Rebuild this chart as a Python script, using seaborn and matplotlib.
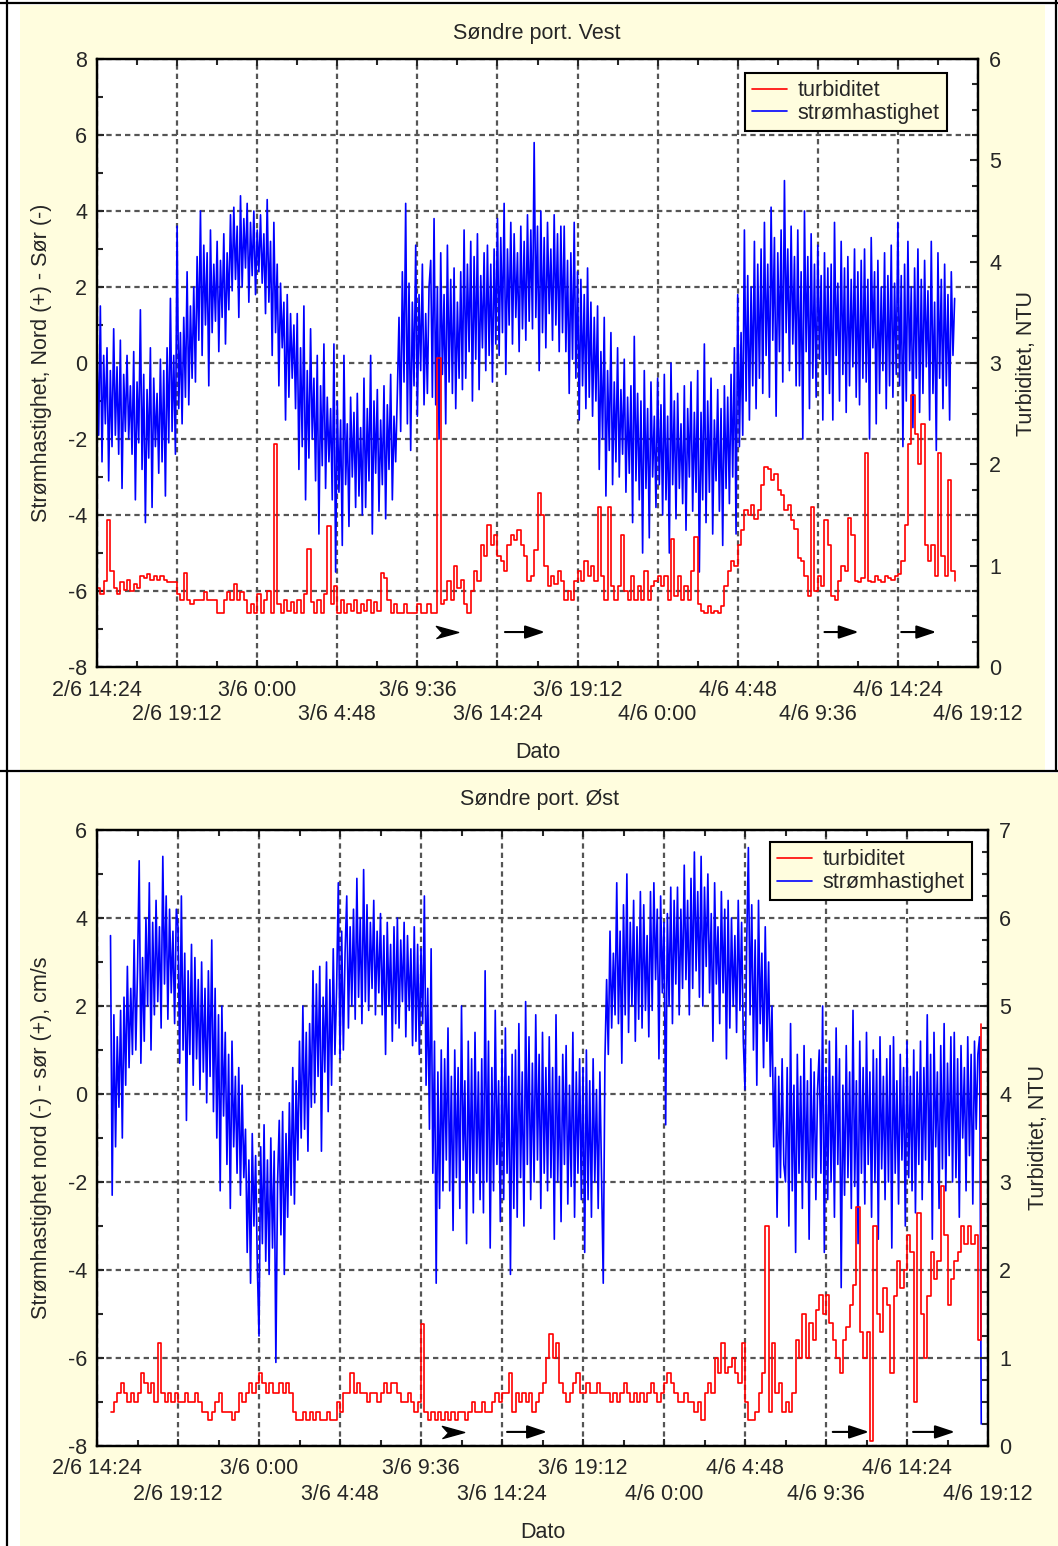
import numpy as np
import matplotlib
matplotlib.use("Agg")
import matplotlib.pyplot as plt
from matplotlib.patches import Rectangle
from matplotlib.lines import Line2D
from matplotlib.ticker import MultipleLocator, FixedLocator
import seaborn as sns

sns.set_style("white")
plt.rcParams["font.family"] = ["Liberation Sans", "DejaVu Sans"]
plt.rcParams["axes.unicode_minus"] = False

# ---------------------------------------------------------------------------
# Time axis: hours after 2/6 14:24
# ---------------------------------------------------------------------------
SPEED_STEP = 0.1   # current meter: one reading every 6 minutes
TURB_STEP = 0.2    # turbidity sensor: one reading every 12 minutes
TICK_HOURS = [0.0, 4.8, 9.6, 14.4, 19.2, 24.0, 28.8, 33.6, 38.4, 43.2, 48.0, 52.8]
TICK_LABELS = ["2/6 14:24", "2/6 19:12", "3/6 0:00", "3/6 4:48", "3/6 9:36",
               "3/6 14:24", "3/6 19:12", "4/6 0:00", "4/6 4:48", "4/6 9:36",
               "4/6 14:24", "4/6 19:12"]

# Søndre port, Vest: current speed (cm/s, north +) and turbidity (NTU)
VEST_START = 0.0
VEST_SPEED = [
    0.3, -1.9, 1.5, -2.6, 0.2, -1.6, 0.4, -3.1, -0.2, -2.2, 0.9, -1.9, -0.1, -2.4, 0.6, -3.3, -0.3, -1.8, 0.2, -2.0,
    -0.6, -2.4, 0.3, -3.6, -0.5, -2.1, 1.4, -2.8, -0.3, -4.2, -0.7, -2.5, 0.4, -3.8, -0.4, -2.2, -0.8, -2.9, 0.1, -2.6,
    -0.2, -3.5, 0.4, -2.1, 1.7, -1.8, 0.2, -2.4, 3.6, -1.2, 0.8, -1.6, 1.2, -0.9, 2.4, -1.1, 1.5, -0.4, 2.0, -0.5,
    2.8, 0.6, 4.0, 0.2, 3.1, 1.0, 2.9, -0.6, 3.5, 0.8, 2.6, 1.1, 3.2, 0.3, 2.7, 1.2, 3.4, 0.5, 2.9, 1.4,
    3.9, 1.9, 4.1, 2.2, 3.6, 1.2, 4.4, 2.0, 3.8, 2.5, 4.2, 1.6, 3.7, 2.3, 4.0, 1.8, 3.5, 2.4, 3.9, 2.1,
    3.4, 1.3, 4.3, 1.6, 3.2, 0.2, 3.7, 0.8, 2.6, -0.6, 2.1, 0.4, 1.6, -1.5, 1.8, -0.9, 1.3, -0.4, 1.0, -1.2,
    1.3, -2.8, 0.4, -2.2, 1.5, -3.6, -0.2, -2.5, 0.9, -2.0, -0.4, -3.1, 0.2, -4.5, -0.6, -2.7, 0.5, -3.3, -0.9, -2.6,
    -1.2, -3.6, 0.5, -5.5, -1.0, -3.4, -1.5, -4.8, 0.2, -3.2, -1.6, -4.3, -0.9, -3.0, -1.3, -3.8, -0.8, -3.5, -1.7, -4.0,
    -0.4, -3.8, -1.2, -3.1, 0.2, -4.5, -1.0, -2.9, -0.7, -3.9, -1.5, -3.2, -0.6, -4.1, -1.1, -2.8, -0.3, -3.6, -1.4, -2.6,
    -0.8, 1.2, -1.8, 2.4, -0.5, 4.2, -1.6, 2.1, -2.3, 1.6, -0.6, 3.1, -1.4, 1.8, -0.2, 2.6, -1.1, 1.3, -0.8, 2.0,
    2.7, -0.9, 3.8, -1.1, 2.0, -2.0, 2.9, -0.3, 1.8, -1.6, 3.1, -0.5, 2.2, -0.8, 2.5, -1.2, 1.6, -0.4, 2.4, -0.7,
    3.5, -0.4, 2.6, 0.3, 3.2, -1.0, 2.8, 0.1, 3.4, -0.7, 2.3, 0.4, 2.9, -0.2, 3.1, 0.2, 2.6, -0.5, 3.0, 0.5,
    3.8, 0.2, 3.3, 0.8, 4.2, -0.3, 3.0, 1.0, 3.7, 0.5, 3.4, 1.2, 2.9, 0.3, 3.6, 0.9, 3.2, 0.6, 3.9, 1.1,
    3.5, 0.9, 5.8, 1.2, 3.6, -0.2, 4.0, 0.8, 3.3, 0.4, 3.7, 1.3, 3.0, 0.6, 3.9, 1.0, 3.4, 0.3, 3.6, 0.8,
    3.6, 0.3, 2.7, -0.8, 2.9, 0.1, 3.7, -0.4, 2.4, -1.5, 2.2, -0.6, 1.8, -1.2, 2.5, -0.9, 1.6, -1.4, 1.2, -1.0,
    1.5, -2.8, 0.3, -2.0, 1.2, -3.5, -0.2, -2.3, 0.8, -3.2, -0.5, -2.6, 0.4, -3.0, -0.7, -2.4, 0.1, -3.4, -0.9, -2.9,
    -0.6, -4.2, 0.7, -3.1, -0.8, -3.6, -1.0, -5.0, -0.2, -3.3, -1.2, -4.6, -0.5, -3.0, -1.4, -3.8, -0.4, -3.2, -1.1, -4.0,
    -0.3, -3.6, -1.4, -5.0, 0.0, -3.2, -1.0, -4.1, -0.8, -3.3, -1.6, -3.7, -0.6, -4.4, -1.2, -3.0, -0.5, -3.9, -1.3, -3.4,
    -0.2, -5.5, -1.3, -3.6, 0.5, -4.2, -1.0, -3.4, -0.4, -4.5, -1.5, -3.1, -0.7, -3.9, -1.2, -4.8, -0.6, -3.3, -0.9, -3.7,
    -0.3, -3.0, 0.4, -4.5, 1.8, -2.2, 0.8, -1.9, 3.5, -1.0, 2.3, -1.5, 2.0, -0.6, 3.2, -1.2, 2.6, -0.4, 3.0, -0.8,
    3.7, 0.2, 2.6, -0.9, 4.1, 0.6, 3.3, -1.4, 2.9, 0.3, 3.5, -0.5, 4.8, 0.8, 3.0, -0.2, 3.6, 0.5, 2.8, -0.6,
    3.5, -0.6, 2.4, -2.0, 4.0, 0.3, 2.8, -1.2, 3.4, -0.4, 2.6, -0.9, 3.1, 0.1, 2.3, -1.5, 2.9, -0.3, 2.5, -0.8,
    2.6, -1.5, 3.7, 0.2, 2.1, -1.0, 3.2, -0.3, 2.5, -1.3, 2.8, -0.6, 2.2, -0.1, 3.0, -0.9, 2.4, -1.1, 2.7, -0.4,
    3.0, -0.5, 2.2, -2.0, 3.3, 0.4, 2.4, -1.6, 2.7, -0.8, 2.0, -0.2, 2.9, -1.2, 2.3, -0.6, 3.1, -0.9, 2.1, -0.3,
    3.7, -0.6, 2.3, -2.2, 2.6, -1.0, 3.2, -0.2, 2.0, -1.7, 2.5, -0.4, 3.0, -1.3, 2.2, -0.8, 2.7, -0.1, 1.9, -1.5,
    3.2, -0.8, 1.6, -2.3, 2.9, -0.4, 2.2, -1.2, 2.6, -0.6, 1.8, -1.5, 2.4, 0.2, 1.7,
]
VEST_TURB = [
    0.78, 0.72, 0.85, 1.45, 0.95, 0.78, 0.72, 0.84, 0.76, 0.86,
    0.75, 0.82, 0.78, 0.90, 0.88, 0.92, 0.86, 0.90, 0.86, 0.90,
    0.86, 0.84, 0.84, 0.84, 0.72, 0.66, 0.93, 0.66, 0.62, 0.66,
    0.66, 0.66, 0.74, 0.66, 0.66, 0.66, 0.53, 0.53, 0.66, 0.74,
    0.66, 0.82, 0.66, 0.74, 0.66, 0.53, 0.62, 0.53, 0.72, 0.53,
    0.66, 0.75, 0.53, 2.20, 0.62, 0.53, 0.66, 0.55, 0.64, 0.53,
    0.66, 0.53, 0.72, 1.16, 0.64, 0.53, 0.66, 0.53, 0.72, 1.39,
    0.62, 0.80, 0.53, 0.66, 0.53, 0.62, 0.55, 0.66, 0.53, 0.62,
    0.55, 0.66, 0.53, 0.64, 0.55, 0.93, 0.88, 0.66, 0.53, 0.62,
    0.53, 0.53, 0.62, 0.53, 0.53, 0.53, 0.62, 0.53, 0.53, 0.62,
    0.53, 0.53, 3.05, 0.62, 0.66, 0.85, 0.66, 1.00, 0.78, 0.86,
    0.62, 0.53, 0.75, 0.95, 0.85, 1.20, 1.10, 1.40, 1.20, 1.30,
    1.10, 1.05, 0.95, 1.20, 1.30, 1.25, 1.35, 1.20, 1.10, 0.85,
    0.90, 1.15, 1.72, 1.50, 1.00, 0.80, 0.90, 0.82, 0.95, 0.85,
    0.66, 0.75, 0.66, 0.85, 0.95, 0.85, 1.05, 0.90, 1.00, 0.85,
    1.58, 0.90, 0.66, 1.58, 0.80, 0.66, 0.80, 1.30, 0.75, 0.66,
    0.90, 0.66, 0.80, 0.66, 0.95, 0.66, 0.80, 0.85, 0.90, 0.80,
    0.90, 0.66, 1.26, 0.70, 0.90, 0.66, 0.80, 0.66, 0.95, 1.28,
    0.62, 0.55, 0.53, 0.60, 0.53, 0.55, 0.53, 0.60, 0.80, 0.95,
    1.05, 1.00, 1.20, 1.35, 1.55, 1.50, 1.60, 1.46, 1.55, 1.80,
    1.97, 1.95, 1.85, 1.90, 1.75, 1.70, 1.55, 1.60, 1.45, 1.36,
    1.08, 1.05, 0.90, 0.70, 1.58, 0.75, 0.90, 0.80, 1.45, 1.20,
    0.70, 0.66, 0.85, 1.00, 0.95, 1.47, 1.30, 0.85, 0.84, 0.88,
    2.11, 0.85, 0.84, 0.90, 0.86, 0.84, 0.90, 0.88, 0.86, 0.90,
    0.92, 1.05, 1.40, 2.20, 2.68, 2.30, 2.00, 2.40, 1.20, 1.05,
    1.20, 0.90, 2.11, 1.10, 0.90, 1.85, 0.95, 0.85,
]

# Søndre port, Øst: current speed (cm/s, south +) and turbidity (NTU)
OST_START = 0.8
OST_SPEED = [
    3.6, -2.3, 1.8, -1.2, 1.3, -0.3, 1.9, -1.0, 2.2, 0.2, 2.9, 0.6, 2.4, 0.9, 3.5, 1.0, 2.8, 5.3, 0.7, 3.1,
    1.2, 4.0, 2.0, 4.8, 1.0, 3.9, 1.8, 4.4, 2.1, 3.8, 1.5, 5.4, 2.5, 4.5, 1.7, 4.2, 2.3, 3.7, 1.6, 4.2,
    3.8, 0.7, 4.5, 1.0, 3.2, -0.6, 2.8, 0.9, 3.4, 0.2, 3.1, 0.8, 2.6, 0.1, 3.0, 0.5, 2.4, -0.2, 2.8, 0.4,
    3.5, -0.4, 2.4, -1.0, 1.8, -2.2, 2.0, -0.5, 1.4, -1.6, 0.9, -2.6, 1.2, -1.2, 0.4, -1.8, 0.6, -2.3, 0.2, -1.9,
    -0.8, -3.6, -1.5, -4.3, -0.9, -3.0, -1.4, -3.9, -5.5, -1.2, -3.4, -0.7, -3.8, -1.5, -4.1, -1.0, -3.5, -1.3, -6.1, -2.0,
    -0.6, -3.2, -0.4, -4.1, -0.9, -2.8, -0.2, -2.3, 0.6, -2.5, 0.3, -1.5, 1.2, -1.0, 2.0, -0.8, 1.4, -1.3, 1.6, -0.3,
    2.8, -0.2, 2.5, 0.4, 2.9, -1.3, 2.2, 0.5, 3.0, -0.4, 2.6, 0.2, 3.3, 0.9, 2.4, 4.8, 0.8, 3.7, 1.0, 3.2,
    4.5, 1.5, 3.8, 2.0, 4.2, 1.7, 4.9, 2.2, 4.0, 1.6, 5.1, 2.1, 4.3, 1.9, 3.9, 2.4, 4.4, 1.8, 3.7, 2.3,
    4.1, 1.8, 3.6, 0.9, 3.9, 2.0, 3.4, 1.2, 3.8, 1.6, 4.0, 1.5, 3.5, 2.1, 3.9, 1.3, 3.6, 1.9, 3.3, 1.1,
    3.8, 1.2, 3.4, 0.9, 3.3, 1.6, 4.5, 0.2, 2.4, -0.8, 3.3, -1.8, 1.2, -4.3, 0.5, -2.6, 1.0, -2.2, 0.8, -1.5,
    1.5, -2.2, 0.4, -3.1, 1.0, -1.9, 0.6, -2.6, 2.0, -1.5, 0.3, -3.4, 1.2, -2.0, 0.8, -2.7, 1.4, -1.8, 0.5, -2.4,
    0.8, -2.7, 2.8, -2.0, 1.2, -3.5, 0.6, -2.2, 1.9, -1.6, 0.3, -2.9, 1.0, -2.4, 1.5, -1.8, 0.4, -4.1, 0.9, -2.6,
    1.0, -2.8, 1.6, -1.9, 0.5, -3.0, 2.1, -1.6, 1.3, -2.4, 0.7, -2.0, 1.8, -1.5, 0.9, -2.6, 1.4, -1.8, 0.6, -2.2,
    1.3, -1.9, 0.6, -3.3, 1.8, -2.0, 0.4, -2.9, 0.9, -1.6, 1.1, -2.5, 0.2, -2.1, 1.4, -2.8, 0.5, -1.8, 0.8, -2.4,
    0.6, -3.6, 1.0, -2.4, 0.3, -2.8, 0.8, -2.0, 0.1, -2.6, 0.5, -1.9, -4.3, 0.8, 2.6, 0.9, 3.7, 1.5, 3.2, 1.8,
    4.8, 1.6, 3.7, 0.7, 4.3, 1.8, 5.0, 1.4, 3.9, 2.0, 4.4, 1.2, 3.8, 1.7, 4.6, 1.5, 4.3, 1.9, 3.6, 1.3,
    4.6, 1.9, 4.8, 2.6, 4.2, 0.8, 4.5, 2.3, 3.9, -0.7, 4.1, 2.0, 4.7, 1.6, 4.4, 2.5, 4.7, 1.8, 4.2, 2.4,
    5.2, 2.6, 4.4, 1.8, 4.9, 2.4, 5.5, 2.8, 4.6, 2.2, 5.4, 2.0, 4.7, 2.9, 5.0, 2.3, 4.1, 1.2, 4.8, 2.5,
    3.8, 1.6, 4.6, 2.3, 4.2, 0.8, 4.4, 1.5, 4.0, 2.0, 3.6, 1.4, 4.4, 1.9, 3.9, 1.2, 0.1, 3.4, 5.6, 1.8,
    4.3, 1.0, 3.5, 0.2, 4.4, 1.6, 3.2, 0.6, 3.8, 1.2, 3.0, 0.4, 2.0, -1.2, 0.6, -2.8, 0.4, -1.9, 0.8, -1.6,
    -2.0, 0.6, -3.0, 1.6, -2.2, 0.2, -3.6, 0.9, -1.8, 0.4, -2.6, 1.1, -2.0, 0.3, -3.3, 0.8, -1.9, 0.5, -2.4, 0.1,
    1.0, -1.8, 2.0, -3.6, 0.6, -2.4, 1.2, -2.0, 0.4, -2.8, 1.5, -1.6, 0.8, -4.4, 0.2, -2.3, 1.1, -1.9, 0.5, -2.6,
    1.9, -2.1, 0.3, -3.4, 1.2, -1.8, 0.6, -2.5, 1.4, -1.6, 0.5, -2.8, 1.0, -2.0, 0.8, -3.3, 1.3, -1.7, 0.4, -2.4,
    0.8, -2.0, 1.1, -3.5, 1.3, -1.8, 0.3, -2.5, 0.9, -1.5, 0.6, -3.0, 1.2, -1.9, 0.4, -2.2, 1.0, -2.7, 0.5, -1.6,
    1.2, -2.4, 0.6, -1.5, 1.8, -2.0, 0.9, -3.3, 1.4, -1.2, 0.5, -2.6, 1.1, -1.7, 1.6, -2.2, 0.7, -1.4, 1.3, -2.0,
    1.4, -1.9, 0.8, -2.8, 1.1, -1.0, 0.6, -2.2, 1.3, -1.4, 0.9, -2.5, 1.2, -0.8, 0.9, 1.3, -7.5,
]
OST_TURB = [
    0.39, 0.50, 0.60, 0.72, 0.60, 0.50, 0.60, 0.50, 0.60, 0.83,
    0.72, 0.60, 0.72, 0.50, 1.17, 0.60, 0.50, 0.60, 0.50, 0.60,
    0.50, 0.50, 0.60, 0.50, 0.50, 0.60, 0.50, 0.39, 0.39, 0.29,
    0.39, 0.50, 0.60, 0.39, 0.39, 0.39, 0.29, 0.39, 0.60, 0.50,
    0.60, 0.72, 0.60, 0.72, 0.83, 0.72, 0.60, 0.72, 0.60, 0.60,
    0.72, 0.60, 0.72, 0.60, 0.39, 0.29, 0.29, 0.39, 0.29, 0.39,
    0.29, 0.39, 0.29, 0.29, 0.39, 0.29, 0.29, 0.50, 0.39, 0.60,
    0.60, 0.83, 0.60, 0.72, 0.60, 0.60, 0.50, 0.60, 0.60, 0.50,
    0.60, 0.72, 0.60, 0.72, 0.72, 0.60, 0.50, 0.50, 0.60, 0.50,
    0.39, 0.50, 1.39, 0.39, 0.29, 0.39, 0.29, 0.39, 0.29, 0.39,
    0.29, 0.39, 0.29, 0.39, 0.39, 0.29, 0.39, 0.50, 0.39, 0.39,
    0.50, 0.39, 0.39, 0.50, 0.60, 0.50, 0.60, 0.60, 0.83, 0.39,
    0.60, 0.50, 0.60, 0.50, 0.60, 0.39, 0.50, 0.60, 0.72, 1.00,
    1.27, 1.00, 1.17, 0.72, 0.60, 0.50, 0.60, 0.72, 0.83, 0.60,
    0.60, 0.72, 0.60, 0.60, 0.72, 0.60, 0.60, 0.60, 0.50, 0.60,
    0.50, 0.60, 0.72, 0.60, 0.50, 0.60, 0.50, 0.60, 0.50, 0.60,
    0.72, 0.60, 0.50, 0.60, 0.72, 0.83, 0.72, 0.60, 0.50, 0.50,
    0.60, 0.50, 0.50, 0.39, 0.50, 0.29, 0.60, 0.72, 0.60, 1.00,
    0.83, 1.17, 0.83, 0.90, 1.00, 0.83, 0.72, 1.17, 0.50, 0.29,
    0.29, 0.39, 0.60, 0.83, 2.50, 0.39, 1.17, 0.60, 0.72, 0.39,
    0.50, 0.39, 0.60, 1.20, 1.00, 1.50, 1.00, 1.40, 1.20, 1.55,
    1.72, 1.50, 1.72, 1.40, 1.20, 1.00, 0.83, 1.20, 1.35, 1.60,
    1.83, 2.72, 1.30, 1.00, 1.30, 0.06, 2.50, 1.50, 1.30, 1.80,
    1.60, 0.83, 1.70, 2.10, 1.80, 2.00, 2.40, 2.20, 0.50, 2.65,
    1.50, 1.00, 1.70, 2.20, 1.90, 2.10, 2.96, 2.40, 1.60, 1.90,
    2.10, 2.20, 2.50, 2.30, 2.50, 2.30, 2.40, 1.20, 4.80,
]

# Flow-direction arrows drawn near the bottom of each panel: (from, to, kind)
VEST_ARROWS = [(20.3, 21.6, "dart"), (24.45, 26.85, "line"),
               (43.6, 45.65, "line"), (48.2, 50.3, "line")]
VEST_ARROW_Y = -7.08
OST_ARROWS = [(20.5, 21.7, "dart"), (24.3, 26.67, "line"),
              (43.6, 45.75, "line"), (48.36, 50.84, "line")]
OST_ARROW_Y = -7.68

SERIES_LABELS = ["turbiditet", "strømhastighet"]

W, H = 1058, 1546
FS = 15.5
CREAM = "#FFFDDE"
GRID_KW = dict(color="#555555", linewidth=1.6, linestyle=(0, (2.4, 1.8)))

fig = plt.figure(figsize=(W / 100, H / 100), dpi=100)
fig.patch.set_facecolor("white")


def fig_rect(x0, y0, x1, y1):
    """Convert a pixel box (top-left origin) into figure fractions."""
    return [x0 / W, 1 - y1 / H, (x1 - x0) / W, (y1 - y0) / H]


# Cream panel backgrounds and separating rules
for box in [(20, 5, 1045, 770), (20, 773, 1058, 1546)]:
    l, b, w, h = fig_rect(*box)
    fig.add_artist(Rectangle((l, b), w, h, transform=fig.transFigure,
                             facecolor=CREAM, edgecolor="none", zorder=-10))
for (xa, ya, xb, yb) in [(0, 3, W, 3), (0, 771, W, 771), (7, 0, 7, H), (1056, 0, 1056, 771)]:
    fig.add_artist(Line2D([xa / W, xb / W], [1 - ya / H, 1 - yb / H],
                          transform=fig.transFigure, color="black", lw=1.6, zorder=-5))


def draw_panel(box, title, title_xy, start, speed, turb, speed_lim, turb_lim,
               speed_label, arrows, arrow_y, legend_xy, ylab_left_x, ylab_right_x):
    ax = fig.add_axes(fig_rect(*box))
    ax.set_facecolor("white")
    ax2 = ax.twinx()

    hours_s = start + SPEED_STEP * np.arange(len(speed))
    hours_t = start + TURB_STEP * np.arange(len(turb))

    sns.lineplot(x=hours_s, y=speed, ax=ax, color="#0000FF", linewidth=1.2,
                 sort=False, estimator=None, legend=False)
    sns.lineplot(x=hours_t, y=turb, ax=ax2, color="#FF0000", linewidth=1.2,
                 sort=False, estimator=None, legend=False, drawstyle="steps-post")

    ax.set_xlim(TICK_HOURS[0], TICK_HOURS[-1])
    ax.set_ylim(*speed_lim)
    ax2.set_ylim(*turb_lim)

    # x ticks: even labels on the first row, odd labels on a second row
    ax.xaxis.set_major_locator(FixedLocator(TICK_HOURS))
    ax.set_xticklabels([lab if i % 2 == 0 else "" for i, lab in enumerate(TICK_LABELS)],
                       fontsize=FS)
    sec = ax.secondary_xaxis("bottom")
    sec.set_xticks(TICK_HOURS[1::2], labels=TICK_LABELS[1::2])
    sec.tick_params(axis="x", length=0, pad=27, labelsize=FS)
    sec.spines["bottom"].set_visible(False)

    ax.xaxis.set_minor_locator(MultipleLocator(2.4))
    ax.yaxis.set_major_locator(MultipleLocator(2))
    ax.yaxis.set_minor_locator(MultipleLocator(1))
    ax2.yaxis.set_major_locator(MultipleLocator(1))
    ax2.yaxis.set_minor_locator(MultipleLocator(0.25))

    ax.tick_params(axis="x", which="both", direction="in", top=True, bottom=True,
                   pad=9, labelsize=FS, width=1.5)
    ax.tick_params(axis="x", which="major", length=5)
    ax.tick_params(axis="x", which="minor", length=4)
    ax.tick_params(axis="y", which="both", direction="in", pad=7,
                   labelsize=FS, width=1.5)
    ax.tick_params(axis="y", which="major", length=5)
    ax.tick_params(axis="y", which="minor", length=4)
    ax2.tick_params(axis="y", which="both", direction="in", pad=8,
                    labelsize=FS, width=1.5)
    ax2.tick_params(axis="y", which="major", length=6)
    ax2.tick_params(axis="y", which="minor", length=4)

    ax.grid(True, which="major", **GRID_KW)
    for a in (ax, ax2):
        for sp in a.spines.values():
            sp.set_linewidth(1.6)
            sp.set_color("black")

    ax.set_xlabel("Dato", fontsize=FS)
    ax.xaxis.set_label_coords(0.5, -0.123)
    ax.set_ylabel(speed_label, fontsize=FS)
    ax.yaxis.set_label_coords(ylab_left_x, 0.5)
    ax2.set_ylabel("Turbiditet, NTU", fontsize=FS)
    ax2.yaxis.set_label_coords(ylab_right_x, 0.5)

    fig.text(title_xy[0] / W, 1 - title_xy[1] / H, title, fontsize=FS,
             ha="center", va="center")

    # flow-direction arrows
    dart = [(-1, -0.55), (1, 0), (-1, 0.55), (-0.5, 0)]
    for x0, x1, kind in arrows:
        if kind == "dart":
            ax.plot([(x0 + x1) / 2], [arrow_y], marker=dart, markersize=16,
                    color="black", linestyle="none", zorder=5)
        else:
            ax.annotate("", xy=(x1, arrow_y), xytext=(x0, arrow_y),
                        arrowprops=dict(arrowstyle="-|>,head_length=0.6,head_width=0.2",
                                        mutation_scale=20, lw=1.5, color="black",
                                        shrinkA=0, shrinkB=0), zorder=5)

    handles = [ax2.lines[0], ax.lines[0]]
    leg = ax2.legend(handles, SERIES_LABELS, loc="upper left",
                     bbox_to_anchor=legend_xy, fontsize=FS, frameon=True,
                     fancybox=False, framealpha=1, facecolor=CREAM,
                     edgecolor="black", handlelength=1.6, handletextpad=0.5,
                     labelspacing=0.08, borderpad=0.34, borderaxespad=0)
    leg.get_frame().set_linewidth(1.5)
    for ln in leg.get_lines():
        ln.set_linewidth(1.2)
    return ax, ax2


draw_panel((97, 59, 978, 667), "Søndre port. Vest", (537, 33), VEST_START,
           VEST_SPEED, VEST_TURB, (-8, 8), (0, 6),
           "Strømhastighet, Nord (+) - Sør (-)", VEST_ARROWS, VEST_ARROW_Y,
           (0.7355, 0.977), -0.051, 1.043)
draw_panel((97, 830, 988, 1446), "Søndre port. Øst", (540, 799), OST_START,
           OST_SPEED, OST_TURB, (-8, 6), (0, 7),
           "Strømhastighet nord (-) - sør (+), cm/s", OST_ARROWS, OST_ARROW_Y,
           (0.7553, 0.9805), -0.0505, 1.045)

fig.savefig("out.png", dpi=100, facecolor=fig.get_facecolor())
